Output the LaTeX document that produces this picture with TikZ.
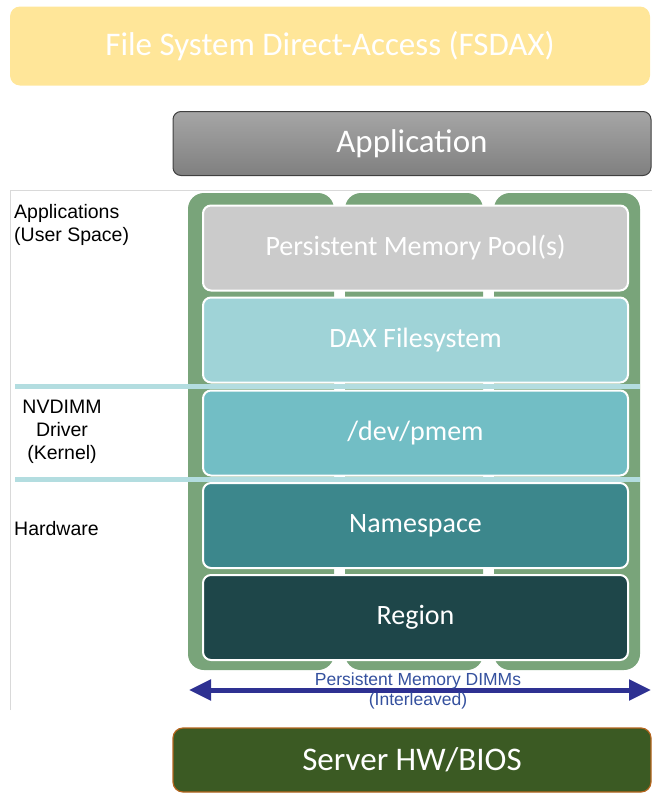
\documentclass[tikz,border=0pt]{standalone}
\usepackage{fontspec}
\setmainfont{Carlito}
\newfontfamily\arialf{Liberation Sans}
\usetikzlibrary{arrows.meta}
\definecolor{ylw}{HTML}{FFE699}
\definecolor{dimmgreen}{HTML}{79A47A}
\definecolor{poolc}{HTML}{CBCBCB}
\definecolor{daxc}{HTML}{9FD3D7}
\definecolor{pmemc}{HTML}{72BEC5}
\definecolor{nsc}{HTML}{3C878C}
\definecolor{regc}{HTML}{1E4649}
\definecolor{sepc}{HTML}{B3DDE0}
\definecolor{arrc}{HTML}{2E3192}
\definecolor{arrtxt}{HTML}{34509E}
\definecolor{srvc}{HTML}{3B5A23}
\definecolor{srvb}{HTML}{B5651D}
\begin{document}
\begin{tikzpicture}[x=1pt,y=-1pt,
  layerbox/.style={draw=white, line width=2pt, rounded corners=8pt, text=white,
    font=\fontsize{28}{32}\selectfont, minimum width=425pt, minimum height=85pt, inner sep=0pt},
  dimm/.style={fill=dimmgreen, rounded corners=16pt},
  sepline/.style={draw=sepc, line width=5pt},
  sidelabel/.style={font=\arialf\fontsize{19.5}{23}\selectfont, text=black, inner sep=0pt},
  bigbox/.style={rounded corners=10pt, text=white, inner sep=0pt, font=\fontsize{33}{36}\selectfont}]
\useasboundingbox (0,0) rectangle (652,793);
% top title
\node[bigbox, fill=ylw, minimum width=640pt, minimum height=79pt] (title) at (330,46) {File System Direct-Access (FSDAX)};
% application
\node[bigbox, rounded corners=8pt, draw=black!75, line width=1pt, top color=black!35, bottom color=black!50, minimum width=478pt, minimum height=64pt] (app) at (412,143.5) {Application};
% panel
\draw[black!15, line width=0.8pt] (10,710) -- (10,190) -- (652,190);
% DIMMs
\fill[dimm] (188,193) rectangle (334,670);
\fill[dimm] (345,193) rectangle (483,670);
\fill[dimm] (494,193) rectangle (640,670);
% separator lines
\draw[sepline] (15,386) -- (640,386);
\draw[sepline] (15,479) -- (640,479);
% layers
\node[layerbox, fill=poolc] (pool) at (415.5,248) {Persistent Memory Pool(s)};
\node[layerbox, fill=daxc] (dax) at (415.5,340) {DAX Filesystem};
\node[layerbox, fill=pmemc] (pmem) at (415.5,433) {/dev/pmem};
\node[layerbox, fill=nsc] (ns) at (415.5,525.5) {Namespace};
\node[layerbox, fill=regc] (reg) at (415.5,617.5) {Region};
% side labels
\node[sidelabel, anchor=north west, align=left] (lapp) at (14,204) {Applications\\(User Space)};
\node[sidelabel, align=center] (ldrv) at (62,432) {NVDIMM\\Driver\\(Kernel)};
\node[sidelabel, anchor=west] (lhw) at (14,529) {Hardware};
% DIMM arrow
\coordinate (al) at (189,690);
\coordinate (ar) at (651,690);
\draw[arrc, line width=5pt, {Triangle[length=22pt,width=20pt]}-{Triangle[length=22pt,width=20pt]}] (al) -- (ar);
\node[font=\arialf\fontsize{17.5}{20}\selectfont, text=arrtxt, inner sep=0pt, align=center] (dimmlbl) at (418,691) {Persistent Memory DIMMs\\(Interleaved)};
% server
\node[bigbox, fill=srvc, draw=srvb, line width=1.2pt, minimum width=478pt, minimum height=64pt] (srv) at (412,760) {Server HW/BIOS};
\end{tikzpicture}
\end{document}
